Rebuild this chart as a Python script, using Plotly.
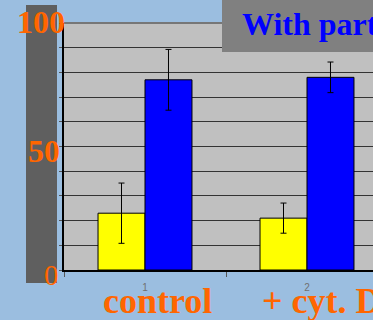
import plotly.graph_objects as go

categories = ["1", "2"]
yellow_vals = [23, 21]
yellow_err = [12.2, 6.1]
blue_vals = [77, 78]
blue_err = [12.3, 6.2]
group_labels = ["control", "+ cyt. D"]
y_labels = ["100", "50", "0"]
title_text = "With part"

ORANGE = "#FF6600"
SERIF = "Liberation Serif"

fig = go.Figure()
fig.add_trace(go.Bar(
    x=categories, y=yellow_vals,
    marker=dict(color="#FFFF00", line=dict(color="black", width=1)),
    error_y=dict(type="data", array=yellow_err, color="black", thickness=1, width=3),
    showlegend=False,
))
fig.add_trace(go.Bar(
    x=categories, y=blue_vals,
    marker=dict(color="#0000FF", line=dict(color="black", width=1)),
    error_y=dict(type="data", array=blue_err, color="black", thickness=1, width=3),
    showlegend=False,
))

W, H = 373, 320
L, T, B = 64, 23, 50
pw, ph = W - L, H - T - B

def px(x):
    return (x - L) / pw

def py(y):
    return (H - B - y) / ph

fig.update_layout(
    width=W, height=H,
    margin=dict(l=L, r=0, t=T, b=B, pad=0),
    paper_bgcolor="#9BBEE0",
    plot_bgcolor="#C0C0C0",
    barmode="group",
    bargap=0.42,
    bargroupgap=0,
    xaxis=dict(
        type="category",
        range=[-0.5, -0.5 + pw / 162.0],
        tickson="boundaries",
        ticks="outside", ticklen=5, tickcolor="#555555", tickwidth=1,
        showline=True, linecolor="black", linewidth=2,
        showgrid=False,
        tickfont=dict(family="Arial", size=10, color="#707070"),
        ticklabelstandoff=7,
    ),
    yaxis=dict(
        range=[0, 100],
        dtick=10,
        ticks="outside", ticklen=3, tickcolor="#555555",
        showticklabels=False,
        showline=True, linecolor="black", linewidth=2,
        gridcolor="#333333", gridwidth=1,
        zeroline=False,
    ),
    shapes=[
        dict(type="rect", xref="paper", yref="paper",
             x0=px(26), x1=px(57), y0=py(283), y1=py(5),
             fillcolor="#5F5F5F", line=dict(width=0), layer="below"),
        dict(type="line", xref="paper", yref="paper",
             x0=0, x1=1, y0=1, y1=1,
             line=dict(color="#777777", width=2), layer="above"),
        dict(type="rect", xref="paper", yref="paper",
             x0=px(222), x1=1.05, y0=py(52), y1=1.2,
             fillcolor="#808080", line=dict(width=0), layer="above"),
    ],
)

# y axis labels
fig.add_annotation(text="<b>" + y_labels[0] + "</b>", xref="paper", yref="paper",
                   x=px(67), y=py(22.5), xanchor="right", yanchor="middle",
                   showarrow=False, font=dict(family=SERIF, size=32, color=ORANGE))
fig.add_annotation(text="<b>" + y_labels[1] + "</b>", xref="paper", yref="paper",
                   x=px(62), y=py(151), xanchor="right", yanchor="middle",
                   showarrow=False, font=dict(family=SERIF, size=32, color=ORANGE))
fig.add_annotation(text=y_labels[2], xref="paper", yref="paper",
                   x=px(61), y=py(274.5), xanchor="right", yanchor="middle",
                   showarrow=False, font=dict(family=SERIF, size=29, color=ORANGE))

# group labels
fig.add_annotation(text="<b>" + group_labels[0] + "</b>", xref="paper", yref="paper",
                   x=px(157.5), y=py(301), xanchor="center", yanchor="middle",
                   showarrow=False, font=dict(family=SERIF, size=36, color=ORANGE))
fig.add_annotation(text="<b>" + group_labels[1] + "</b>", xref="paper", yref="paper",
                   x=px(260), y=py(301), xanchor="left", yanchor="middle",
                   showarrow=False, font=dict(family=SERIF, size=36, color=ORANGE))

# title
fig.add_annotation(text="<b>" + title_text + "</b>", xref="paper", yref="paper",
                   x=px(240), y=py(24), xanchor="left", yanchor="middle",
                   showarrow=False, font=dict(family=SERIF, size=32, color="#0000FF"))

fig.write_html("out.html", config={"displayModeBar": False},
               post_script="document.body.style.margin='0';document.body.style.overflow='hidden';")
